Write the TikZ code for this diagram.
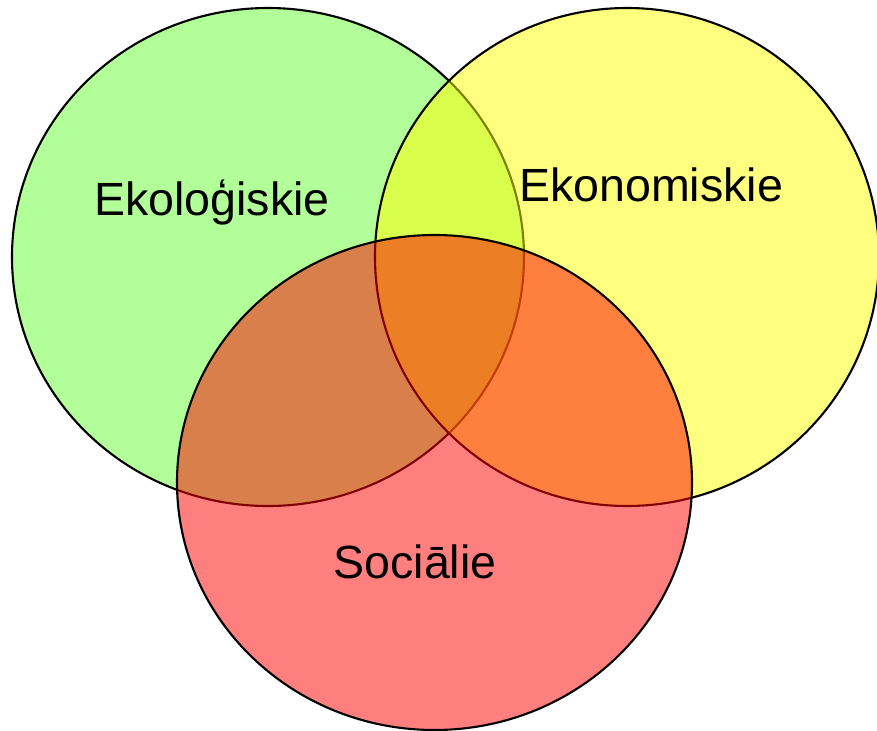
\documentclass[tikz,border=0pt]{standalone}
\usepackage{fontspec}
\setmainfont{Liberation Sans}
\usepackage{tikz}
\definecolor{ekogreen}{RGB}{102,255,51}
\definecolor{ekoyellow}{RGB}{255,255,0}
\definecolor{socred}{RGB}{255,0,0}

\begin{document}
\begin{tikzpicture}[
  x=0.02cm, y=-0.02cm,
  circ/.style = {draw=black, line width=1.2pt, fill opacity=0.5},
  label/.style = {font=\fontsize{26.5}{31}\selectfont, anchor=base, inner sep=0pt}
]

  \useasboundingbox (0,0) rectangle (877,731);

  % Three overlapping circles
  \draw[circ, fill=ekogreen] (268,257) ellipse [x radius=256, y radius=249];
  \draw[circ, fill=ekoyellow] (627,257) ellipse [x radius=252, y radius=249];
  \draw[circ, fill=socred] (434.5,482.5) ellipse [x radius=257.5, y radius=247.5];

  % Labels
  \node[label] (eko) at (212,215) {Ekoloģiskie};
  \node[label] (ekon) at (651,201) {Ekonomiskie};
  \node[label] (soc) at (415,578) {Sociālie};

\end{tikzpicture}
\end{document}
